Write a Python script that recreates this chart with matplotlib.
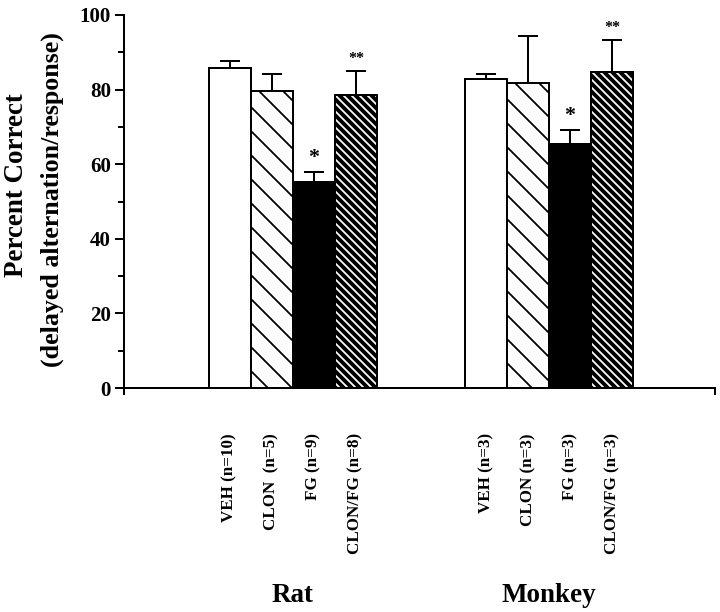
import numpy as np
import matplotlib
matplotlib.use("Agg")
import matplotlib.pyplot as plt
from matplotlib.ticker import MultipleLocator

# values (percent correct, upward SEM)
groups = ["Rat", "Monkey"]
conditions = ["VEH", "CLON", "FG", "CLON/FG"]
rat_labels = ["VEH (n=10)", "CLON  (n=5)", "FG (n=9)", "CLON/FG (n=8)"]
monkey_labels = ["VEH (n=3)", "CLON (n=3)", "FG (n=3)", "CLON/FG (n=3)"]
rat_mean = [85.7, 79.7, 55.3, 78.6]
rat_err = [2.1, 4.5, 2.6, 6.4]
monkey_mean = [82.8, 81.9, 65.4, 84.8]
monkey_err = [1.4, 12.6, 3.8, 8.6]
rat_marks = ["", "", "*", "**"]
monkey_marks = ["", "", "*", "**"]

plt.rcParams['font.family'] = ['Liberation Serif', 'DejaVu Serif']
plt.rcParams['font.weight'] = 'bold'
plt.rcParams['hatch.linewidth'] = 1.8

fig = plt.figure(figsize=(10, 8.5), dpi=72)
ax = fig.add_axes([124 / 720, 1 - 388 / 612, 591 / 720, 373 / 612])

rat_x = 2.52 + np.arange(4)
monkey_x = 8.62 + np.arange(4)
width = 1.0

def draw_group(xs, means, errs, marks):
    for i, (x, m, e, s) in enumerate(zip(xs, means, errs, marks)):
        if i == 0:
            ax.bar(x, m, width, color='white', edgecolor='black', linewidth=2)
        elif i == 1:
            ax.bar(x, m, width, color='white', edgecolor='black', linewidth=0, hatch='\\')
            ax.bar(x, m, width, color='none', edgecolor='black', linewidth=2)
        elif i == 2:
            ax.bar(x, m, width, color='black', edgecolor='black', linewidth=2)
        else:
            ax.bar(x, m, width, color='black', edgecolor='white', linewidth=0, hatch='\\\\\\')
            ax.bar(x, m, width, color='none', edgecolor='black', linewidth=2)
        ax.errorbar(x, m, yerr=[[0], [e]], fmt='none', ecolor='black',
                    elinewidth=2, capsize=10, capthick=2)
        if s:
            ax.text(x, m + e + 1.0, s, ha='center', va='bottom',
                    fontsize=22 if s == '*' else 16, fontweight='bold', clip_on=False)

draw_group(rat_x, rat_mean, rat_err, rat_marks)
draw_group(monkey_x, monkey_mean, monkey_err, monkey_marks)

ax.set_xlim(0, 591 / 42)
ax.set_ylim(0, 100)
ax.spines['top'].set_visible(False)
ax.spines['right'].set_visible(False)
ax.spines['left'].set_linewidth(2)
ax.spines['bottom'].set_linewidth(2)
ax.spines['left'].set_bounds(0, 100)

ax.yaxis.set_major_locator(MultipleLocator(20))
ax.yaxis.set_minor_locator(MultipleLocator(10))
ax.tick_params(axis='y', which='major', length=9, width=2, labelsize=21, pad=4)
ax.tick_params(axis='y', which='minor', length=6, width=2)
ax.set_xticks([0, 591 / 42])
ax.set_xticklabels([])
ax.tick_params(axis='x', which='major', length=7, width=2, direction='out')
for lab in ax.get_yticklabels():
    lab.set_fontweight('bold')

# condition labels, rotated, hanging below the axis
for xs, labs in [(rat_x, rat_labels), (monkey_x, monkey_labels)]:
    for x, lab in zip(xs, labs):
        ax.annotate(lab, xy=(x, 0), xycoords='data', xytext=(0, -45),
                    textcoords='offset points', rotation=90, ha='center',
                    va='top', fontsize=17, fontweight='bold')

for xs, g in [(rat_x, groups[0]), (monkey_x, groups[1])]:
    ax.annotate(g, xy=(xs.mean(), 0), xycoords='data', xytext=(0, -208),
                textcoords='offset points', ha='center', va='center',
                fontsize=27, fontweight='bold')

fig.text(17 / 720, 1 - 185 / 612, "Percent Correct", rotation=90, ha='center',
         va='center', fontsize=27, fontweight='bold')
fig.text(52 / 720, 1 - 200 / 612, "(delayed alternation/response)", rotation=90,
         ha='center', va='center', fontsize=26, fontweight='bold')

fig.savefig("out.png", dpi=72)
